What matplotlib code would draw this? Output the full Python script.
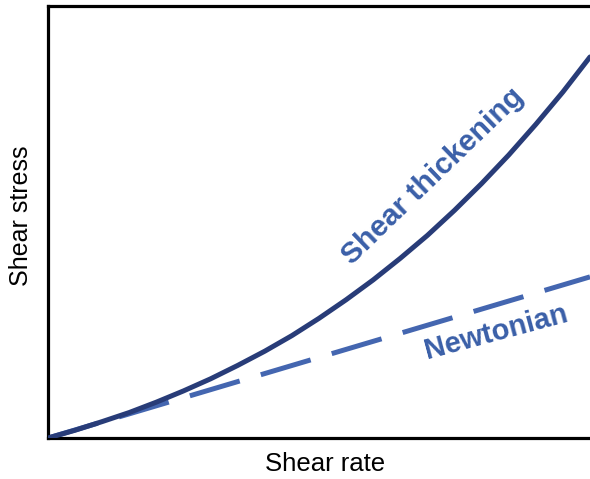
import matplotlib
matplotlib.use("Agg")
import matplotlib.pyplot as plt

plt.rcParams['font.family'] = ['Liberation Sans', 'DejaVu Sans']

# Shear rate (normalized) and shear stress values
shear_rate = [0.0, 0.05, 0.1, 0.15, 0.2, 0.25, 0.3, 0.35, 0.4, 0.45, 0.5,
              0.55, 0.6, 0.65, 0.7, 0.75, 0.8, 0.85, 0.9, 0.95, 1.0]
stress_thickening = [0.0, 0.018, 0.038, 0.059, 0.083, 0.109, 0.137, 0.168, 0.201,
                     0.237, 0.277, 0.320, 0.366, 0.416, 0.469, 0.527, 0.589,
                     0.655, 0.726, 0.801, 0.882]
newton_rate = [0.0, 1.0]
stress_newtonian = [0.0, 0.373]

label_thick = "Shear thickening"
label_newton = "Newtonian"
xlabel = "Shear rate"
ylabel = "Shear stress"

W, H = 590, 479
fig = plt.figure(figsize=(W / 100, H / 100), dpi=100)
left, right, top, bottom = 48, 590, 6, 438
ax = fig.add_axes([left / W, 1 - bottom / H, (right - left) / W, (bottom - top) / H])
ax.set_xlim(0, 1)
ax.set_ylim(0, 1)

ax.plot(newton_rate, stress_newtonian, color='#4466B0', lw=3.6,
        dashes=(10.4, 4.4), solid_capstyle='butt', dash_capstyle='butt', zorder=2)
ax.plot(shear_rate, stress_thickening, color='#283C78', lw=3.6, zorder=3,
        solid_capstyle='round')

for s in ['left', 'bottom', 'top']:
    ax.spines[s].set_linewidth(2.3)
    ax.spines[s].set_color('black')
ax.spines['right'].set_visible(False)
ax.set_xticks([])
ax.set_yticks([])

tc = '#3A5FA8'
fig.text(433 / W, 1 - 176 / H, label_thick, color=tc, fontsize=21.5, fontweight='bold',
         rotation=44, ha='center', va='center', rotation_mode='anchor')
fig.text(496 / W, 1 - 332 / H, label_newton, color=tc, fontsize=21, fontweight='bold',
         rotation=15, ha='center', va='center', rotation_mode='anchor')

fig.text(325 / W, 1 - 464 / H, xlabel, fontsize=18.5, ha='center', va='center')
fig.text(21 / W, 1 - 216 / H, ylabel, fontsize=18, ha='center', va='center', rotation=90)

fig.savefig('out.png', dpi=100)
